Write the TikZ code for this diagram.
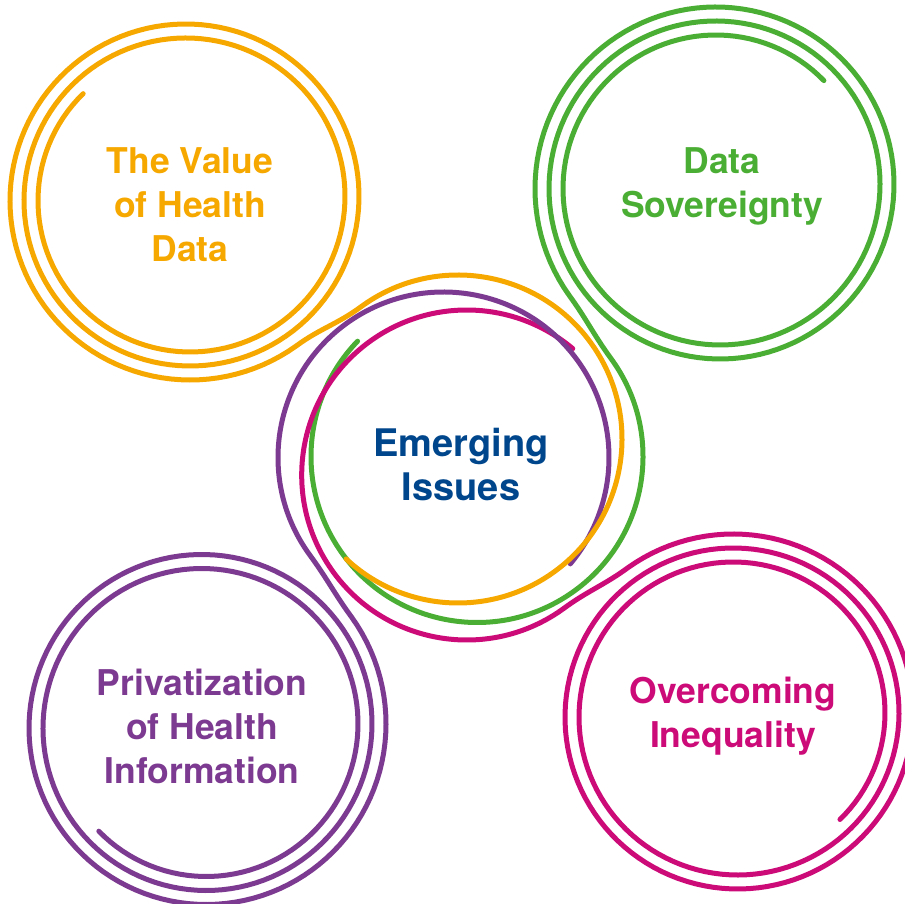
\documentclass[tikz,border=0pt]{standalone}
\usepackage{fontspec}
\setmainfont{TeX Gyre Heros}
\usetikzlibrary{calc}
\definecolor{valueorange}{HTML}{F6A800}
\definecolor{sovgreen}{HTML}{4BAE34}
\definecolor{privpurple}{HTML}{7D3A91}
\definecolor{ineqpink}{HTML}{CC0A78}
\definecolor{issueblue}{HTML}{00468C}
\tikzset{
  ring/.style={line width=5pt, line cap=round},
  topic/.style={align=center, font=\fontsize{35.5}{44}\selectfont\bfseries},
}

\begin{document}
\begin{tikzpicture}[x=1pt,y=1pt]
    \useasboundingbox (0,0) rectangle (905,903);
    % centres of the middle rings
    \coordinate (oc) at (458,464);
    \coordinate (gc) at (477,446.5);
    \coordinate (pc) at (443.5,445.5);
    \coordinate (kc) at (466.7,428);
    % green
    \draw[ring, sovgreen] plot[variable=\t, domain=45:936.2, samples=300]
        ({718+(151.5+(\t-90)*14/360)*cos(\t)}, {716.5+(151.5+(\t-90)*14/360)*sin(\t)})
        to[out=306.2, in=126.2] ($(gc)+(36.2:166)$)
        arc[start angle=36.2, end angle=-224, radius=166pt];
    % pink
    \draw[ring, ineqpink] plot[variable=\t, domain=315:1206.2, samples=300]
        ({735.5+(149.5+(\t-360)*14/360)*cos(\t)}, {188+(149.5+(\t-360)*14/360)*sin(\t)})
        to[out=216.2, in=36.2] ($(kc)+(306.2:165)$)
        arc[start angle=306.2, end angle=50, radius=165pt];
    % purple
    \draw[ring, privpurple] plot[variable=\t, domain=225:1116.3, samples=300]
        ({204+(150.5+(\t-270)*14/360)*cos(\t)}, {177+(150.5+(\t-270)*14/360)*sin(\t)})
        to[out=126.3, in=306.3] ($(pc)+(216.3:165.5)$)
        arc[start angle=216.3, end angle=-40, radius=165.5pt];
    % orange
    \draw[ring, valueorange] plot[variable=\t, domain=135:1026.3, samples=300]
        ({188+(150+(\t-180)*14/360)*cos(\t)}, {704.5+(150+(\t-180)*14/360)*sin(\t)})
        to[out=36.3, in=216.3] ($(oc)+(126.3:164)$)
        arc[start angle=126.3, end angle=-133, radius=164pt];
    % labels
    \node[topic, valueorange] (value) at (190,698) {The Value\\of Health\\Data};
    \node[topic, sovgreen] (sovereignty) at (722,717) {Data\\Sovereignty};
    \node[topic, issueblue, font=\fontsize{38}{44}\selectfont\bfseries] (issues) at (461,438) {Emerging\\Issues};
    \node[topic, privpurple] (privatization) at (202,177) {Privatization\\of Health\\Information};
    \node[topic, ineqpink] (inequality) at (733,187) {Overcoming\\Inequality};
\end{tikzpicture}
\end{document}
